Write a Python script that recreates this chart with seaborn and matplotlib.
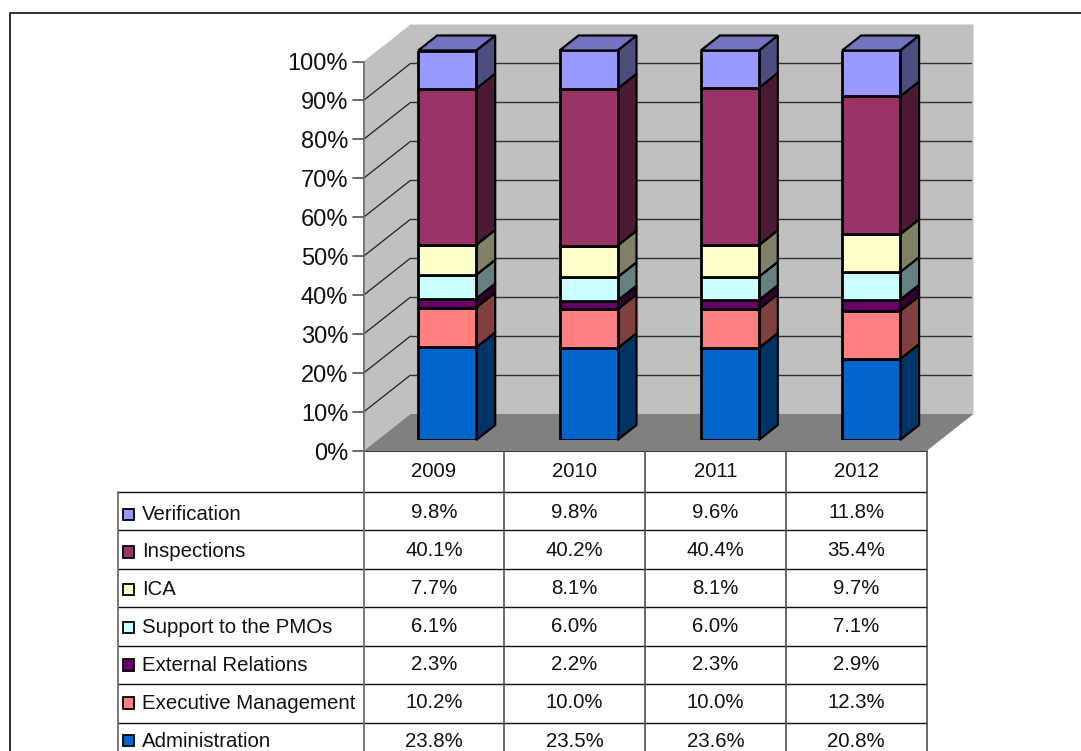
import numpy as np
import pandas as pd
import matplotlib
matplotlib.use("Agg")
import matplotlib.pyplot as plt
import seaborn as sns
from matplotlib.patches import Polygon, Rectangle
from matplotlib.colors import to_rgb

years = ["2009", "2010", "2011", "2012"]
# stack order, bottom to top
series = ["Administration", "Executive Management", "External Relations",
          "Support to the PMOs", "ICA", "Inspections", "Verification"]
administration = [23.8, 23.5, 23.6, 20.8]
executive = [10.2, 10.0, 10.0, 12.3]
external = [2.3, 2.2, 2.3, 2.9]
support = [6.1, 6.0, 6.0, 7.1]
ica = [7.7, 8.1, 8.1, 9.7]
inspections = [40.1, 40.2, 40.4, 35.4]
verification = [9.8, 9.8, 9.6, 11.8]
colors = ["#0066CC", "#FF8080", "#660066", "#CCFFFF", "#FFFFCC", "#993366", "#9999FF"]

values = np.array([administration, executive, external, support, ica, inspections, verification])
shares = values / values.sum(axis=0) * 100  # 100% stacked

W, H = 1081, 751
sns.set_style("white")
plt.rcParams["font.family"] = ["Liberation Sans", "DejaVu Sans"]
fig = plt.figure(figsize=(W / 100, H / 100), dpi=100, facecolor="white")


def px_axes(x0, y0, x1, y1, **kw):
    # axes from pixel box, y measured from the top
    return fig.add_axes([x0 / W, 1 - y1 / H, (x1 - x0) / W, (y1 - y0) / H], **kw)


# pixel layout
plot_l, plot_r, plot_t, plot_b = 363.5, 926.5, 61.5, 451
wall_dx, wall_dy = 47, 37
col_px = (plot_r - plot_l) / 4
pct_px = (plot_b - plot_t) / 100

# frame + table live on a full figure overlay in pixels
ov = px_axes(0, 0, W, H, zorder=1)
ov.set_xlim(0, W)
ov.set_ylim(H, 0)
ov.axis("off")
ov.plot([10, 10, W], [H, 12.5, 12.5], color="#202020", lw=1.3)

row_h = 38.5
row_top = 491.5
table_l = 117.5
col_x = [plot_l + i * col_px for i in range(5)]
ov.plot([plot_l, plot_r], [plot_b, plot_b], color="black", lw=1.1)
for i in range(7):
    y = row_top + i * row_h
    ov.plot([table_l, plot_r], [y, y], color="#101010", lw=1.0)
ov.plot([table_l, table_l], [row_top, H], color="#707070", lw=1.3)
ov.plot([col_x[0], col_x[0]], [plot_t, H], color="#707070", lw=1.3)
for x in col_x[1:]:
    ov.plot([x, x], [plot_b, H], color="#505050", lw=1.2)

fs = 14.7
for i, year in enumerate(years):
    ov.text(col_x[i] + col_px / 2, (plot_b + row_top) / 2 + 0.5, year, ha="center", va="center",
            fontsize=fs, color="#111111")
for r, k in enumerate(range(len(series) - 1, -1, -1)):
    ov.add_patch(Rectangle((122.5, 508.5 + r * 37.7), 11.5, 11.5, facecolor=colors[k], edgecolor="black", lw=1.3))
    ov.text(142, 514 + r * 37.95, series[k], ha="left", va="center", fontsize=fs, color="#111111")
    for i in range(len(years)):
        ov.text(col_x[i] + col_px / 2, 512 + r * 38.17, f"{values[k][i]:.1f}%", ha="center", va="center",
                fontsize=fs, color="#111111")

# walls, floor, grid
ax = px_axes(plot_l, plot_t, plot_r, plot_b, zorder=2)
ax.patch.set_alpha(0)
ax.set_xlim(-0.5, 3.5)
ax.set_ylim(0, 100)
ddx, ddy = wall_dx / col_px, wall_dy / pct_px
x_a, x_b = -0.5, 3.5
ax.add_patch(Polygon([(x_a, 0), (x_a + ddx, ddy), (x_b + ddx, ddy), (x_b + ddx, 100 + ddy), (x_a + ddx, 100 + ddy), (x_a, 100)],
                     facecolor="#C0C0C0", edgecolor="none", clip_on=False, zorder=1))
ax.add_patch(Polygon([(x_a, 0), (x_b, 0), (x_b + ddx, ddy), (x_a + ddx, ddy)],
                     facecolor="#808080", edgecolor="none", clip_on=False, zorder=1.5))
ticks = list(range(0, 101, 10))
for t in ticks:
    tick_y = plot_b - t * pct_px
    ov.plot([plot_l - 10.5, plot_l], [tick_y, tick_y], color="#505050", lw=1.2)
for t in ticks[1:-1]:
    ax.plot([x_a, x_a + ddx], [t, t + ddy], color="#202020", lw=0.9, clip_on=False, zorder=2)
    ax.plot([x_a + ddx, x_b + ddx - 0.015], [t + ddy, t + ddy], color="#303030", lw=1.0, clip_on=False, zorder=2)
ax.set_yticks(ticks)
ax.set_yticklabels([f"{t}%" for t in ticks])
ax.set_xticks([])
ax.tick_params(axis="y", left=False, length=7.5, pad=3.5,
               labelsize=17, labelcolor="#111111")
for s in ["top", "right", "bottom"]:
    ax.spines[s].set_visible(False)
ax.spines["left"].set_color("#707070")
ax.spines["left"].set_linewidth(1.2)

# bars sit on the floor, shifted back from the front plane
bar_step = 141.3
bar_l = 447.2 - bar_step / 2
bx = px_axes(bar_l, plot_t - 11, bar_l + 4 * bar_step, plot_b - 11, zorder=3)
bx.patch.set_alpha(0)
bar_w = 58 / bar_step
dx, dy = 19 / bar_step, 15 / pct_px
edge_kw = dict(edgecolor="black", lw=1.6, clip_on=False, joinstyle="miter")

bottoms = np.zeros(len(years))
for k, name in enumerate(series):
    df = pd.DataFrame({"year": years, "share": shares[k]})
    sns.barplot(data=df, x="year", y="share", color=colors[k], saturation=1, width=bar_w,
                bottom=bottoms, edgecolor="black", linewidth=2.0, ax=bx, zorder=5)
    side = np.array(to_rgb(colors[k])) * 0.5
    tops = bottoms + shares[k]
    for i in range(len(years)):
        xr = i + bar_w / 2
        bx.add_patch(Polygon([(xr, bottoms[i]), (xr + dx, bottoms[i] + dy), (xr + dx, tops[i] + dy), (xr, tops[i])],
                             facecolor=side, zorder=4, **edge_kw))
        if k == len(series) - 1:
            xl = i - bar_w / 2
            lid = np.array(to_rgb(colors[k])) * 0.75
            bx.add_patch(Polygon([(xl, tops[i]), (xr, tops[i]), (xr + dx, tops[i] + dy), (xl + dx, tops[i] + dy)],
                                 facecolor=lid, zorder=4, **edge_kw))
    bottoms = tops
bx.set_xlim(-0.5, 3.5)
bx.set_ylim(0, 100)
bx.axis("off")

fig.savefig("out.png", dpi=100)
